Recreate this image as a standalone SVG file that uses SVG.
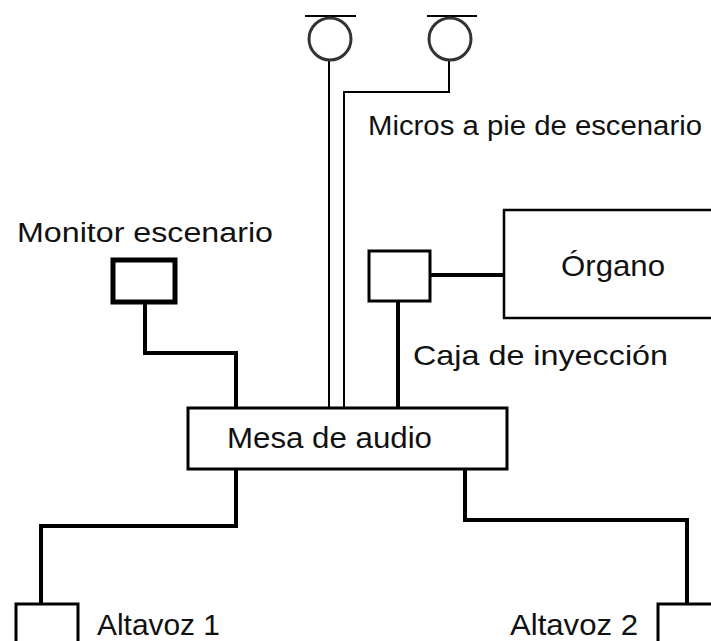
<svg xmlns="http://www.w3.org/2000/svg" width="711" height="641" viewBox="0 0 711 641">
<style>
.bg{fill:#fff}
.box{fill:#fff;stroke:#000}
.w{fill:none;stroke:#000;stroke-width:4;stroke-linejoin:miter;stroke-linecap:square}
.thin{fill:none;stroke:#000;stroke-width:2}
.t{font-family:"Liberation Sans",Arial,sans-serif;fill:#111}
</style>
<rect class="bg" x="0" y="0" width="711" height="641"/>
<g id="connectors">
  <path class="thin" d="M329,60 V407"/>
  <path class="thin" d="M449,61 V92 H344 V407"/>
  <path class="w" d="M145,303 V353 H236 V407"/>
  <path class="w" d="M398,301 V407"/>
  <path class="w" d="M430,275 H503"/>
  <path class="w" d="M236,469 V526 H41 V603"/>
  <path class="w" d="M465,469 V520 H687 V603"/>
</g>
<g id="mic1">
  <line x1="305" y1="16" x2="356" y2="16" stroke="#000" stroke-width="2"/>
  <circle cx="330" cy="39" r="21" fill="#fff" stroke="#333" stroke-width="3"/>
</g>
<g id="mic2">
  <line x1="427" y1="16" x2="477" y2="16" stroke="#000" stroke-width="2"/>
  <circle cx="450" cy="39" r="21" fill="#fff" stroke="#333" stroke-width="3"/>
</g>
<g id="micros-label">
  <text class="t" x="368" y="135" font-size="27" textLength="334" lengthAdjust="spacingAndGlyphs">Micros a pie de escenario</text>
</g>
<g id="monitor">
  <rect class="box" x="113" y="260" width="62" height="42" stroke-width="5"/>
  <text class="t" x="17" y="242" font-size="27" textLength="256" lengthAdjust="spacingAndGlyphs">Monitor escenario</text>
</g>
<g id="caja">
  <rect class="box" x="369" y="251" width="61" height="50" stroke-width="3"/>
  <text class="t" x="413" y="365" font-size="28" textLength="255" lengthAdjust="spacingAndGlyphs">Caja de inyección</text>
</g>
<g id="organo">
  <rect class="box" x="504" y="210" width="220" height="108" stroke="#333" stroke-width="2.5"/>
  <text class="t" x="561" y="276" font-size="29" textLength="104" lengthAdjust="spacingAndGlyphs">Órgano</text>
</g>
<g id="mesa">
  <rect class="box" x="188" y="408" width="319" height="61" stroke-width="3"/>
  <text class="t" x="227" y="448" font-size="30" textLength="205" lengthAdjust="spacingAndGlyphs">Mesa de audio</text>
</g>
<g id="altavoz1">
  <rect class="box" x="16" y="604" width="62" height="60" stroke-width="3"/>
  <text class="t" x="97" y="635" font-size="30" textLength="123" lengthAdjust="spacingAndGlyphs">Altavoz 1</text>
</g>
<g id="altavoz2">
  <rect class="box" x="658" y="604" width="80" height="60" stroke-width="3"/>
  <text class="t" x="510" y="635" font-size="30" textLength="128" lengthAdjust="spacingAndGlyphs">Altavoz 2</text>
</g>
</svg>
